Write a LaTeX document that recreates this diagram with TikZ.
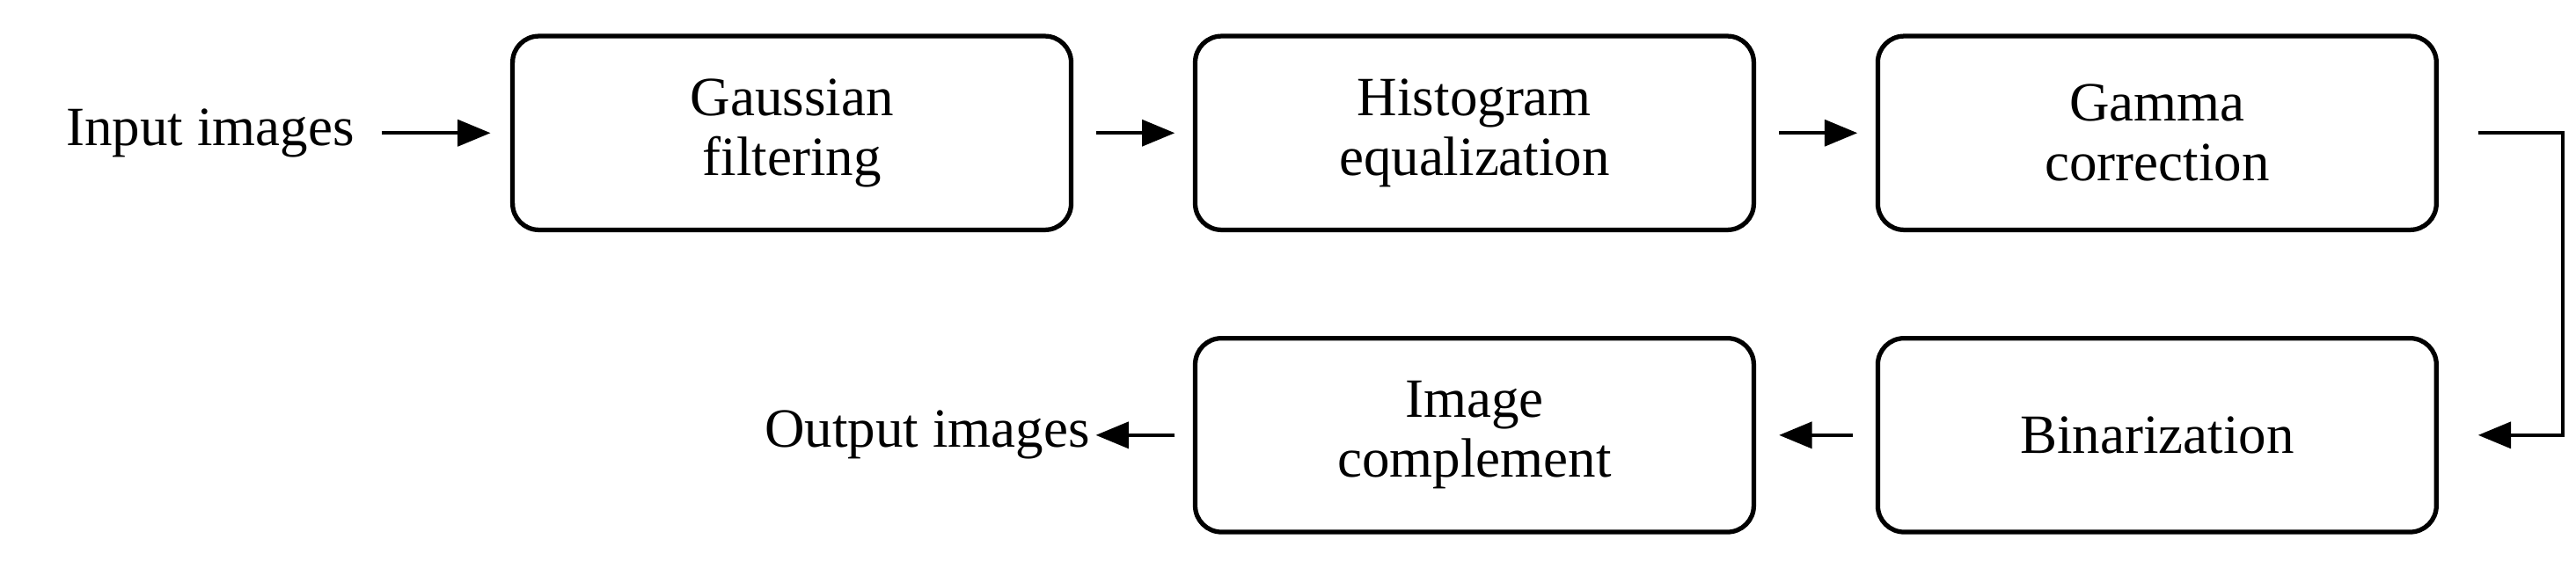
\documentclass[tikz,border=0pt]{standalone}
\usepackage{fontspec}
\setmainfont{Liberation Serif}
\usetikzlibrary{arrows.meta}
\begin{document}
\begin{tikzpicture}[x=1cm,y=1cm]
	\tikzset{nd/.style={rectangle, rounded corners=1.6mm, draw=black, line width=0.8pt, minimum width=3.4cm, minimum height=1.18cm, align=center, font=\fontsize{9.6}{10.4}\selectfont}};
	\tikzset{txt/.style={font=\fontsize{9.6}{10.4}\selectfont, inner sep=0pt}};
	\tikzset{ar/.style={-{Triangle[length=2mm,width=1.6mm]}, line width=0.6pt}};
	\useasboundingbox (0,0) rectangle (15.68,3.55);

	\node[txt] (in) at (1.28, 2.74) {Input images};
	\node[nd] (gf) at (4.82, 2.74) {Gaussian\\filtering};
	\node[nd] (he) at (8.975, 2.74) {Histogram\\equalization};
	\node[nd] (gc) at (13.13, 2.74) {Gamma\\correction};
	\node[nd] (bi) at (13.13, 0.90) {Binarization};
	\node[nd] (ic) at (8.975, 0.90) {Image\\complement};
	\node[txt, anchor=east] (out) at (6.64, 0.90) {Output images};

	\coordinate (c1) at (15.60, 2.74);
	\coordinate (c2) at (15.60, 0.90);

	\draw[ar] ([xshift=1.6mm]in.east) to ([xshift=-1.2mm]gf.west);
	\draw[ar] ([xshift=1.4mm]gf.east) to ([xshift=-1.1mm]he.west);
	\draw[ar] ([xshift=1.4mm]he.east) to ([xshift=-1.1mm]gc.west);
	\draw[ar] ([xshift=2.4mm]gc.east) -- (c1) -- (c2) -- ([xshift=2.4mm]bi.east);
	\draw[ar] ([xshift=-1.4mm]bi.west) to ([xshift=1.4mm]ic.east);
	\draw[ar] ([xshift=-1.1mm]ic.west) to ([xshift=0.3mm]out.east);
\end{tikzpicture}
\end{document}
